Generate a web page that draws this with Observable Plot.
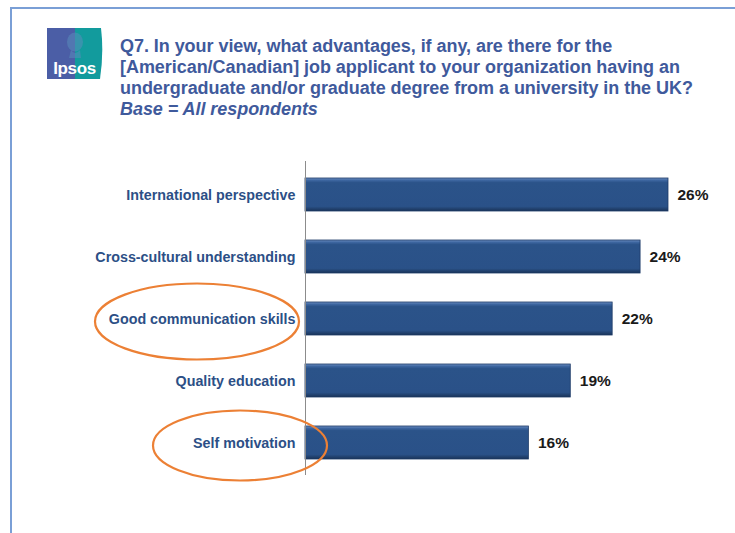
<!DOCTYPE html>
<html>
<head>
<meta charset="utf-8">
<script src="https://cdn.jsdelivr.net/npm/d3@7"></script>
<script src="https://cdn.jsdelivr.net/npm/@observablehq/plot@0.6"></script>
<style>
  html, body { margin: 0; padding: 0; background: #fff; }
  #wrap { position: relative; width: 735px; height: 533px; overflow: hidden; font-family: "Liberation Sans", Arial, sans-serif; }
  #frameTop { position: absolute; left: 10px; top: 7px; width: 740px; height: 2px; background: #7a9fd6; }
  #frameLeft { position: absolute; left: 10px; top: 7px; width: 2px; height: 540px; background: #7a9fd6; }
  #logo { position: absolute; left: 47px; top: 28px; }
  #title { position: absolute; left: 120px; top: 36px; width: 615px; color: #3f5a9c; font-weight: bold; font-size: 18px; line-height: 21px; letter-spacing: -0.05px; white-space: nowrap; }
  #title i { font-style: italic; }
  #chart { position: absolute; left: 0; top: 140px; }
</style>
</head>
<body>
<div id="wrap">
  <div id="frameTop"></div>
  <div id="frameLeft"></div>
  <svg id="logo" width="56" height="51" viewBox="0 0 56 51">
    <path d="M0,0 H28 V51 H0 Z" fill="#4b5ea6"/>
    <path d="M28,0 H54 Q57,25 53,51 H28 Z" fill="#129b9d"/>
    <ellipse cx="28" cy="14" rx="8" ry="9.5" fill="#5a8cba" opacity="0.55"/>
    <path d="M24,22 Q28,28 33,22 L34,30 H22 Z" fill="#5a8cba" opacity="0.55"/>
    <text x="27.5" y="46" text-anchor="middle" fill="#ffffff" font-family="Liberation Sans, Arial, sans-serif" font-size="17" font-weight="bold" letter-spacing="-0.4">Ipsos</text>
  </svg>
  <div id="title">Q7. In your view, what advantages, if any, are there for the<br>[American/Canadian] job applicant to your organization having an<br>undergraduate and/or graduate degree from a university in the UK?<br><i>Base = All respondents</i></div>
  <div id="chart"></div>
</div>
<script>
const categories = ["International perspective", "Cross-cultural understanding", "Good communication skills", "Quality education", "Self motivation"];
const values = [26, 24, 22, 19, 16];
const highlighted = ["Good communication skills", "Self motivation"];

const data = categories.map((c, i) => ({category: c, value: values[i]}));

const plot = Plot.plot({
  width: 735,
  height: 393,
  marginLeft: 305,
  marginRight: 67,
  marginTop: 21,
  marginBottom: 58,
  style: {fontFamily: "Liberation Sans, Arial, sans-serif", background: "transparent", overflow: "visible"},
  x: {domain: [0, 26], axis: null},
  y: {domain: categories, paddingInner: 0.47, paddingOuter: 0.235, label: null},
  marks: [
    Plot.barX(data, {x: "value", y: "category", fill: "url(#barGrad)", stroke: "#1d3a66", strokeWidth: 0.8}),
    Plot.ruleX([0], {stroke: "#8c8c8c", strokeWidth: 1}),
    Plot.axisY({tickSize: 0, tickPadding: 10, fontSize: 14.3, fontWeight: "bold", fill: "#2c4f86", label: null}),
    Plot.text(data, {x: "value", y: "category", text: d => d.value + "%", dx: 9, textAnchor: "start", fontSize: 15.5, fontWeight: "bold", fill: "#1a1a1a"})
  ]
});

const svg = d3.select(plot);
const defs = svg.insert("defs", ":first-child");
const g = defs.append("linearGradient").attr("id", "barGrad").attr("x1", 0).attr("y1", 0).attr("x2", 0).attr("y2", 1);
g.append("stop").attr("offset", "0%").attr("stop-color", "#6e8fc2");
g.append("stop").attr("offset", "7%").attr("stop-color", "#3d66a0");
g.append("stop").attr("offset", "14%").attr("stop-color", "#2b5389");
g.append("stop").attr("offset", "86%").attr("stop-color", "#2a5188");
g.append("stop").attr("offset", "100%").attr("stop-color", "#1a3358");

// orange annotation ellipses around highlighted categories, positioned via the plot's scales
const yScale = plot.scale("y");
const bw = yScale.bandwidth;
const ellipses = [
  {category: highlighted[0], cx: 197, rx: 102, ry: 38},
  {category: highlighted[1], cx: 240, rx: 87, ry: 35}
];
svg.append("g").selectAll("ellipse").data(ellipses).join("ellipse")
  .attr("cx", d => d.cx)
  .attr("cy", d => yScale.apply(d.category) + bw / 2 + 3)
  .attr("rx", d => d.rx)
  .attr("ry", d => d.ry)
  .attr("fill", "none")
  .attr("stroke", "#ec8035")
  .attr("stroke-width", 2.2);

document.getElementById("chart").appendChild(plot);
</script>
</body>
</html>
